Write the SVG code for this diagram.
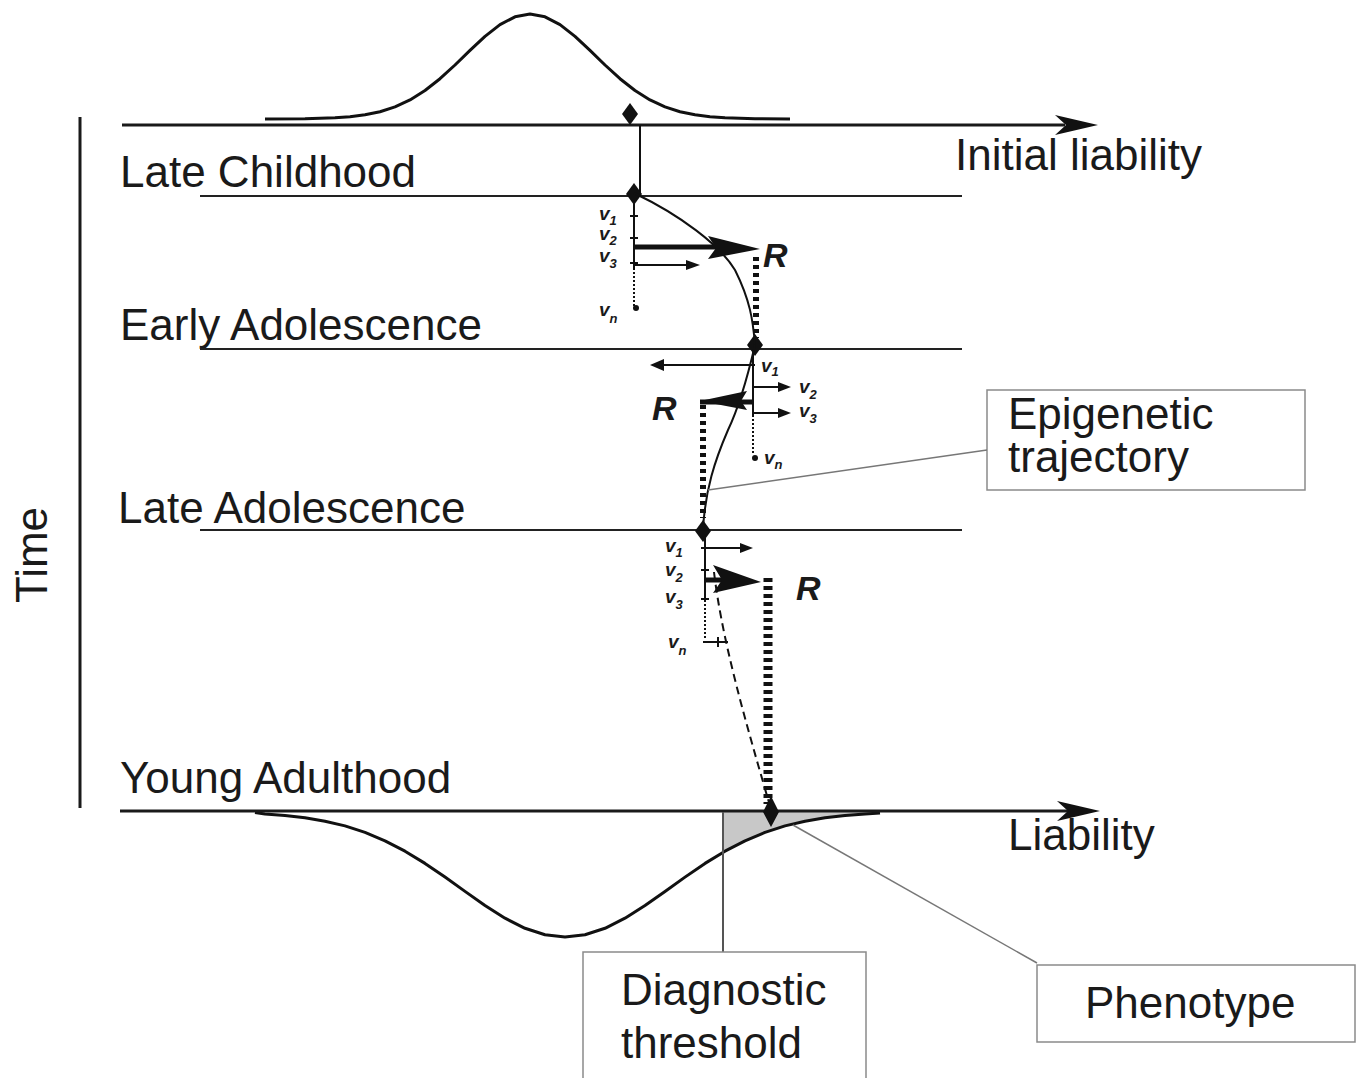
<svg xmlns="http://www.w3.org/2000/svg" width="1361" height="1078" viewBox="0 0 1361 1078">
<style>
.lbl{font-family:"Liberation Sans",Arial,sans-serif;font-size:44px;fill:#1a1a1a}
.v{font-family:"Liberation Sans",Arial,sans-serif;font-weight:bold;font-style:italic;font-size:19px;fill:#1a1a1a}
.sub{font-size:13px}
.R{font-family:"Liberation Sans",Arial,sans-serif;font-weight:bold;font-style:italic;font-size:34px;fill:#1a1a1a}
.ax{stroke:#1a1a1a;stroke-width:3;fill:none}
.stage{stroke:#222;stroke-width:2;fill:none}
.curve{stroke:#111;stroke-width:3;fill:none;stroke-linejoin:round}
.traj{stroke:#111;stroke-width:2;fill:none}
.tick{stroke:#111;stroke-width:2;fill:none}
.dot{stroke:#111;stroke-width:2;stroke-dasharray:2,2;fill:none}
.box{fill:#fff;stroke:#8a8a8a;stroke-width:1.5}
.lead{stroke:#777;stroke-width:1.5;fill:none}
</style>
<defs>
<path id="dia" d="M0,-11 L8,0 L0,11 L-8,0 Z" fill="#111"/>
</defs>

<g id="time-axis">
<line class="ax" x1="80" y1="117" x2="80" y2="808"/>
<text class="lbl" transform="translate(47,555) rotate(-90)" text-anchor="middle">Time</text>
</g>

<g id="initial-distribution">
<path class="curve" d="M265,119 L305,118.8 L335,117.8 L350,116.7 L365,114.8 L380,111.7 L395,106.9 L410,99.9 L425,90.5 L440,78.7 L455,65 L470,50.4 L485,36.4 L500,24.6 L515,16.8 L530,14 L545,16.8 L560,24.6 L575,36.4 L590,50.4 L605,65 L620,78.7 L635,90.5 L650,99.9 L665,106.9 L680,111.7 L695,114.8 L710,116.7 L725,117.8 L755,118.8 L790,119"/>
<line class="ax" x1="122" y1="125" x2="1065" y2="125"/>
<path d="M1098,125 L1055,115 L1066,125 L1055,135 Z" fill="#111"/>
<text class="lbl" x="955" y="170">Initial liability</text>
<use href="#dia" x="630" y="114"/>
<line class="tick" x1="640" y1="125" x2="640" y2="193"/>
</g>

<g id="late-childhood">
<text class="lbl" x="120" y="187">Late Childhood</text>
<line class="stage" x1="200" y1="196" x2="962" y2="196"/>
<use href="#dia" x="634" y="194"/>
<line class="tick" x1="634" y1="196" x2="634" y2="268"/>
<line class="dot" x1="634" y1="268" x2="634" y2="306"/>
<line class="tick" x1="630" y1="216" x2="638" y2="216"/>
<line class="tick" x1="630" y1="238" x2="638" y2="238"/>
<line class="tick" x1="630" y1="263" x2="638" y2="263"/>
<circle cx="636" cy="308" r="3" fill="#111"/>
<text class="v" x="599" y="220">v<tspan class="sub" dy="5">1</tspan></text>
<text class="v" x="599" y="240">v<tspan class="sub" dy="5">2</tspan></text>
<text class="v" x="599" y="262">v<tspan class="sub" dy="6">3</tspan></text>
<text class="v" x="599" y="316">v<tspan class="sub" dy="7">n</tspan></text>
<line stroke="#111" stroke-width="5" x1="634" y1="247" x2="716" y2="247"/>
<path d="M708,236 L760,249 L708,259 L716,248 Z" fill="#111"/>
<line class="tick" x1="634" y1="265" x2="688" y2="265" />
<path d="M686,260 L700,265 L686,270 Z" fill="#111"/>
<text class="R" x="763" y="267">R</text>
<line stroke="#111" stroke-width="6" stroke-dasharray="4,4" x1="756" y1="257" x2="756" y2="338"/>
</g>

<g id="early-adolescence">
<text class="lbl" x="120" y="340">Early Adolescence</text>
<line class="stage" x1="200" y1="349" x2="962" y2="349"/>
<use href="#dia" x="755" y="345"/>
<line class="tick" x1="755" y1="365" x2="662" y2="365"/>
<path d="M664,359 L650,365 L664,371 Z" fill="#111"/>
<line class="tick" x1="753" y1="349" x2="753" y2="415"/>
<line class="dot" x1="753" y1="415" x2="753" y2="455"/>
<circle cx="755" cy="458" r="3" fill="#111"/>
<line class="tick" x1="753" y1="387" x2="780" y2="387"/>
<path d="M778,382 L791,387 L778,392 Z" fill="#111"/>
<line class="tick" x1="753" y1="413" x2="780" y2="413"/>
<path d="M778,408 L791,413 L778,418 Z" fill="#111"/>
<text class="v" x="761" y="372">v<tspan class="sub" dy="4">1</tspan></text>
<text class="v" x="799" y="393">v<tspan class="sub" dy="6">2</tspan></text>
<text class="v" x="799" y="417">v<tspan class="sub" dy="6">3</tspan></text>
<text class="v" x="764" y="464">v<tspan class="sub" dy="5">n</tspan></text>
<line stroke="#111" stroke-width="5" x1="700" y1="402" x2="752" y2="402"/>
<path d="M700,401 L747,391 L741,401 L747,410 Z" fill="#111"/>
<text class="R" x="652" y="420">R</text>
<line stroke="#111" stroke-width="6" stroke-dasharray="4,4" x1="703" y1="405" x2="703" y2="518"/>
</g>

<g id="late-adolescence">
<text class="lbl" x="118" y="523">Late Adolescence</text>
<line class="stage" x1="200" y1="530" x2="962" y2="530"/>
<use href="#dia" x="703" y="531"/>
<line class="tick" x1="705" y1="532" x2="705" y2="600"/>
<line class="dot" x1="705" y1="600" x2="705" y2="640"/>
<line class="tick" x1="701" y1="548" x2="709" y2="548"/>
<line class="tick" x1="701" y1="570" x2="709" y2="570"/>
<line class="tick" x1="701" y1="599" x2="709" y2="599"/>
<line class="tick" x1="705" y1="548" x2="742" y2="548"/>
<path d="M740,543 L753,548 L740,553 Z" fill="#111"/>
<line stroke="#111" stroke-width="5" x1="705" y1="580" x2="722" y2="580"/>
<path d="M713,565 L761,582 L713,593 L722,580 Z" fill="#111"/>
<line class="tick" x1="703" y1="642" x2="728" y2="642"/>
<line class="tick" x1="718" y1="637" x2="718" y2="647"/>
<text class="v" x="665" y="552">v<tspan class="sub" dy="5">1</tspan></text>
<text class="v" x="665" y="576">v<tspan class="sub" dy="6">2</tspan></text>
<text class="v" x="665" y="603">v<tspan class="sub" dy="6">3</tspan></text>
<text class="v" x="668" y="648">v<tspan class="sub" dy="7">n</tspan></text>
<text class="R" x="796" y="600">R</text>
<line stroke="#111" stroke-width="9" stroke-dasharray="4,4" x1="768" y1="578" x2="768" y2="804"/>
</g>

<g id="young-adulthood">
<text class="lbl" x="120" y="793">Young Adulthood</text>
<path d="M723,812 L723,853 L725,851.2 L745,840.8 L765,832.4 L785,825.9 L805,821.2 L825,817.8 L845,815.6 L865,814.1 L880,813 L880,812 Z" fill="#c8c8c8"/>
<path class="curve" d="M255,812.5 L265,814.1 L285,815.6 L305,817.8 L325,821.2 L345,825.9 L365,832.4 L385,840.8 L405,851.2 L425,863.4 L445,877.1 L465,891.4 L485,905.5 L505,918.2 L525,928.3 L545,934.8 L565,937 L585,934.8 L605,928.3 L625,918.2 L645,905.5 L665,891.4 L685,877.1 L705,863.4 L725,851.2 L745,840.8 L765,832.4 L785,825.9 L805,821.2 L825,817.8 L845,815.6 L865,814.1 L880,813"/>
<line class="ax" x1="120" y1="811" x2="1068" y2="811"/>
<path d="M1100,811 L1057,801 L1068,811 L1057,821 Z" fill="#111"/>
<text class="lbl" x="1008" y="850">Liability</text>
<path d="M771,796 L779,812 L771,827 L763,812 Z" fill="#111"/>
</g>

<g id="diagnostic-threshold">
<line stroke="#555" stroke-width="2" x1="723" y1="812" x2="723" y2="952"/>
<rect class="box" x="583" y="952" width="283" height="130"/>
<text class="lbl" x="621" y="1005">Diagnostic</text>
<text class="lbl" x="621" y="1058">threshold</text>
</g>

<g id="phenotype">
<rect class="box" x="1037" y="965" width="318" height="77"/>
<text class="lbl" x="1085" y="1018">Phenotype</text>
</g>

<g id="epigenetic-trajectory">
<rect class="box" x="987" y="390" width="318" height="100"/>
<text class="lbl" x="1008" y="429">Epigenetic</text>
<text class="lbl" x="1008" y="472">trajectory</text>
</g>

<g id="connectors">
<path class="traj" d="M634,193 C680,215 720,245 735,270 C750,300 753,320 755,345"/>
<path class="traj" d="M755,345 C748,375 740,405 728,430 C715,460 705,490 703,530"/>
<path class="traj" stroke-dasharray="8,5" d="M714,572 C722,640 745,720 770,806"/>
<line class="lead" x1="987" y1="450" x2="708" y2="490"/>
<line class="lead" x1="793" y1="825" x2="1037" y2="963"/>
</g>
</svg>
